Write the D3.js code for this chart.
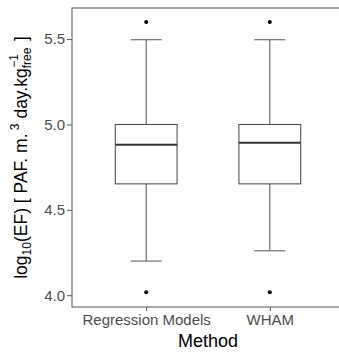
<!DOCTYPE html>
<html>
<head>
<meta charset="utf-8">
<script src="https://cdn.jsdelivr.net/npm/d3@7"></script>
<style>
body { margin: 0; background: #fff; }
text { font-family: "Liberation Sans", Arial, sans-serif; }
</style>
</head>
<body>
<script>
var w = 339, h = 354;

// data
var methods = ["Regression Models", "WHAM"];
var lowWhisker = [4.20, 4.26];
var q1 = [4.652, 4.652];
var median = [4.881, 4.893];
var q3 = [5.0, 5.0];
var highWhisker = [5.496, 5.496];
var outliers = [[4.018, 5.60], [4.018, 5.60]];
var yTicks = [4.0, 4.5, 5.0, 5.5];

var margin = {top: 8, right: -5, bottom: 47, left: 72};

var svg = d3.select("body")
  .append("svg")
  .attr("width", w)
  .attr("height", h);

var x = d3.scalePoint()
  .domain(methods)
  .range([margin.left, w - margin.right])
  .padding(0.6);

var y = d3.scaleLinear()
  .domain([3.931, 5.682])
  .range([h - margin.bottom, margin.top]);

var step = x.step();
var boxW = step * 0.5;
var capW = step * 0.25;

var rows = methods.map(function(m, i) {
  return {m: m, lo: lowWhisker[i], q1: q1[i], med: median[i], q3: q3[i], hi: highWhisker[i], out: outliers[i]};
});

var g = svg.selectAll("g.box")
  .data(rows)
  .enter()
  .append("g")
  .attr("class", "box");

// whiskers
g.append("line")
  .attr("x1", function(d) { return x(d.m); })
  .attr("x2", function(d) { return x(d.m); })
  .attr("y1", function(d) { return y(d.q3); })
  .attr("y2", function(d) { return y(d.hi); })
  .attr("stroke", "#555").attr("stroke-width", 1);
g.append("line")
  .attr("x1", function(d) { return x(d.m); })
  .attr("x2", function(d) { return x(d.m); })
  .attr("y1", function(d) { return y(d.q1); })
  .attr("y2", function(d) { return y(d.lo); })
  .attr("stroke", "#555").attr("stroke-width", 1);

// caps
["hi", "lo"].forEach(function(k) {
  g.append("line")
    .attr("x1", function(d) { return x(d.m) - capW / 2; })
    .attr("x2", function(d) { return x(d.m) + capW / 2; })
    .attr("y1", function(d) { return y(d[k]); })
    .attr("y2", function(d) { return y(d[k]); })
    .attr("stroke", "#555").attr("stroke-width", 1);
});

// box
g.append("rect")
  .attr("x", function(d) { return x(d.m) - boxW / 2; })
  .attr("y", function(d) { return y(d.q3); })
  .attr("width", boxW)
  .attr("height", function(d) { return y(d.q1) - y(d.q3); })
  .attr("fill", "#fff")
  .attr("stroke", "#444").attr("stroke-width", 1);

// median
g.append("line")
  .attr("x1", function(d) { return x(d.m) - boxW / 2; })
  .attr("x2", function(d) { return x(d.m) + boxW / 2; })
  .attr("y1", function(d) { return y(d.med); })
  .attr("y2", function(d) { return y(d.med); })
  .attr("stroke", "#333").attr("stroke-width", 2);

// outliers
g.selectAll("circle")
  .data(function(d) { return d.out.map(function(v) { return {m: d.m, v: v}; }); })
  .enter()
  .append("circle")
  .attr("cx", function(d) { return x(d.m); })
  .attr("cy", function(d) { return y(d.v); })
  .attr("r", 2)
  .attr("fill", "#000");

// panel border
svg.append("rect")
  .attr("x", margin.left)
  .attr("y", margin.top)
  .attr("width", w - margin.right - margin.left)
  .attr("height", h - margin.bottom - margin.top)
  .attr("fill", "none")
  .attr("stroke", "#555")
  .attr("stroke-width", 1);

// axes
var yAxis = svg.append("g")
  .attr("transform", "translate(" + margin.left + ",0)")
  .call(d3.axisLeft(y).tickValues(yTicks).tickFormat(d3.format(".1f")).tickSize(5).tickPadding(2));
var xAxis = svg.append("g")
  .attr("transform", "translate(0," + (h - margin.bottom) + ")")
  .call(d3.axisBottom(x).tickSize(4).tickPadding(3));
[yAxis, xAxis].forEach(function(a) {
  a.select(".domain").remove();
  a.selectAll(".tick line").attr("stroke", "#555");
  a.selectAll(".tick text")
    .attr("fill", "#4d4d4d")
    .style("font-size", "15px")
    .style("font-family", "'Liberation Sans', Arial, sans-serif");
});

// axis titles
svg.append("text")
  .attr("x", (margin.left + w - margin.right) / 2)
  .attr("y", 347)
  .attr("text-anchor", "middle")
  .style("font-size", "18px")
  .text("Method");

var yt = svg.append("text")
  .attr("transform", "translate(27," + ((margin.top + h - margin.bottom) / 2) + ") rotate(-90)")
  .attr("text-anchor", "middle")
  .style("font-size", "17.5px");
yt.append("tspan").text("log");
yt.append("tspan").attr("dy", 4).style("font-size", "12px").text("10");
yt.append("tspan").attr("dy", -4).text("(EF) [ PAF. m.");
yt.append("tspan").attr("dy", -8).style("font-size", "12px").text(" 3");
yt.append("tspan").attr("dy", 8).text(" day.kg");
yt.append("tspan").attr("dy", 4).style("font-size", "12px").text("free");
yt.append("tspan").attr("dx", -20).attr("dy", -13).style("font-size", "12px").text("\u22121");
yt.append("tspan").attr("dy", 9).attr("dx", 8).text(" ]");
</script>
</body>
</html>
